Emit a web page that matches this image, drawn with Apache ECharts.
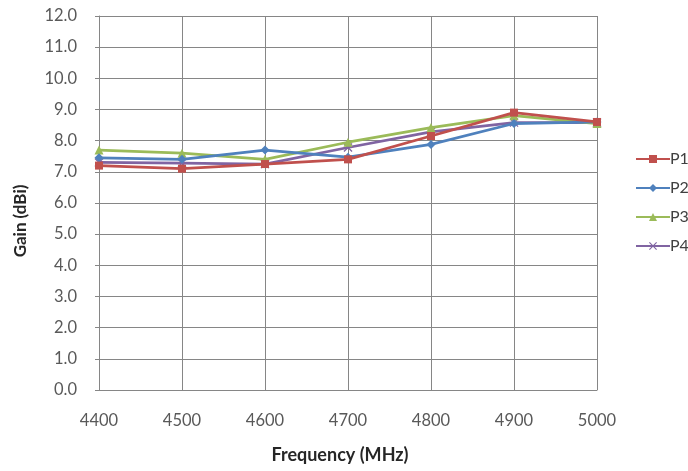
<!DOCTYPE html>
<html><head><meta charset="utf-8">
<script src="https://cdn.jsdelivr.net/npm/echarts@6/dist/echarts.min.js"></script>
<style>html,body{margin:0;padding:0;background:#fff}#c{width:688px;height:471px}</style>
</head><body><div id="c"></div>
<script>
const frequencies = ['4400','4500','4600','4700','4800','4900','5000'];
const p1 = [7.2, 7.1, 7.25, 7.4, 8.15, 8.9, 8.6];
const p2 = [7.45, 7.4, 7.7, 7.47, 7.88, 8.55, 8.6];
const p3 = [7.7, 7.6, 7.4, 7.95, 8.42, 8.8, 8.55];
const p4 = [7.3, 7.28, 7.25, 7.78, 8.28, 8.58, 8.58];
const seriesNames = ['P1','P2','P3','P4'];
const xTitle = 'Frequency (MHz)';
const yTitle = 'Gain (dBi)';

const colors = ['#C0504D','#4F81BD','#9BBB59','#8064A2'];
const symbols = ['rect','diamond','triangle','path://M0,1L1,0L5,4L9,0L10,1L6,5L10,9L9,10L5,6L1,10L0,9L4,5Z'];
const sizes = [8,9,9,9];
const font = 'Lato, "Open Sans", sans-serif';
const chart = echarts.init(document.getElementById('c'));
const data = [p1,p2,p3,p4];
chart.setOption({
  animation:false,
  backgroundColor:'#fff',
  grid:{left:99,right:91,top:16,bottom:81,containLabel:false},
  legend:{
    orient:'vertical', left:630, top:146, itemGap:13, itemWidth:34, itemHeight:10,
    textStyle:{color:'#404040',fontSize:16,lineHeight:16,fontFamily:font,padding:[0,0,0,-5]},
    data:seriesNames
  },
  graphic:[
    {type:'text', left:'center', x:0, style:{text:xTitle, x:340, y:455, align:'center', verticalAlign:'middle',
      fill:'#262626', font:'bold 18px Lato, "Open Sans", sans-serif'}, position:[0,0], left:null},
    {type:'text', x:21, y:221, rotation:Math.PI/2, style:{text:yTitle, align:'center', verticalAlign:'middle',
      fill:'#262626', font:'bold 17px Lato, "Open Sans", sans-serif'}}
  ],
  xAxis:{
    type:'category', data:frequencies, boundaryGap:false,
    axisLine:{lineStyle:{color:'#868686',width:1}},
    axisTick:{show:false},
    axisLabel:{color:'#595959',fontSize:16.5,fontFamily:font,margin:22},
    splitLine:{show:true,lineStyle:{color:'#868686',width:1}}
  },
  yAxis:{
    type:'value', min:0, max:12, interval:1,
    axisLine:{show:true,lineStyle:{color:'#868686',width:1}},
    axisTick:{show:true,length:4,lineStyle:{color:'#868686'}},
    axisLabel:{color:'#595959',fontSize:16.5,fontFamily:font,margin:22,formatter:v=>v.toFixed(1)},
    splitLine:{show:true,lineStyle:{color:'#868686',width:1}}
  },
  series: seriesNames.map((n,i)=>({
    name:n, type:'line', data:data[i],
    symbol:symbols[i], symbolSize:sizes[i], showSymbol:true,
    lineStyle:{color:colors[i],width:2.75},
    itemStyle:{color:colors[i]},
    z: 10-i
  }))
});
</script></body></html>
